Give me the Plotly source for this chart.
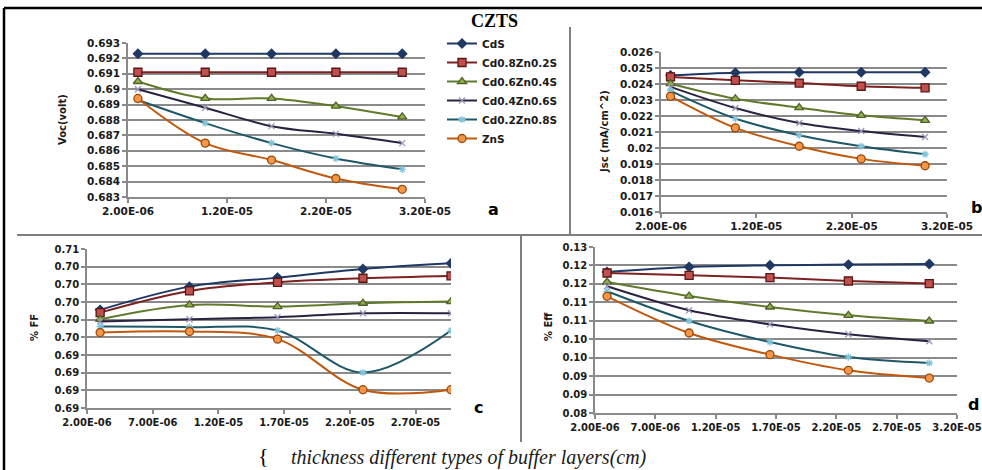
import plotly.graph_objects as go

# ---------------- data ----------------
series_names = ["CdS", "Cd0.8Zn0.2S", "Cd0.6Zn0.4S", "Cd0.4Zn0.6S", "Cd0.2Zn0.8S", "ZnS"]
thickness_cm = [3.0e-6, 9.8e-6, 1.65e-5, 2.3e-5, 2.97e-5]

voc = [
    [0.6923, 0.6923, 0.6923, 0.6923, 0.6923],
    [0.6911, 0.6911, 0.6911, 0.6911, 0.6911],
    [0.6905, 0.6894, 0.6894, 0.6889, 0.6882],
    [0.6900, 0.6888, 0.6876, 0.6871, 0.6865],
    [0.6893, 0.6878, 0.6865, 0.6855, 0.6848],
    [0.6894, 0.6865, 0.6854, 0.6842, 0.6835],
]
jsc = [
    [0.02454, 0.02471, 0.02473, 0.02473, 0.02473],
    [0.02444, 0.02423, 0.02406, 0.02386, 0.02376],
    [0.02402, 0.02308, 0.02252, 0.02204, 0.02173],
    [0.02382, 0.02250, 0.02156, 0.02106, 0.02069],
    [0.02357, 0.02184, 0.02080, 0.02011, 0.01961],
    [0.02323, 0.02126, 0.02011, 0.01932, 0.01889],
]
ff = [
    [0.69811, 0.70074, 0.70176, 0.70274, 0.70338],
    [0.69780, 0.70025, 0.70123, 0.70169, 0.70195],
    [0.69705, 0.69867, 0.69848, 0.69886, 0.69905],
    [0.69679, 0.69705, 0.69728, 0.69773, 0.69773],
    [0.69622, 0.69615, 0.69577, 0.69102, 0.69577],
    [0.69554, 0.69566, 0.69480, 0.68907, 0.68907],
]
eff = [
    [0.12322, 0.12458, 0.12504, 0.12523, 0.12539],
    [0.12295, 0.12233, 0.12170, 0.12078, 0.12008],
    [0.12051, 0.11671, 0.11373, 0.11148, 0.10994],
    [0.11934, 0.11284, 0.10904, 0.10633, 0.10443],
    [0.11799, 0.10994, 0.10424, 0.10017, 0.09855],
    [0.11663, 0.10668, 0.10082, 0.09657, 0.09448],
]

# tick values / labels
x_ticks_top = [2e-6, 1.2e-5, 2.2e-5, 3.2e-5]
x_labels_top = ["2.00E-06", "1.20E-05", "2.20E-05", "3.20E-05"]
x_ticks_c = [2e-6, 7e-6, 1.2e-5, 1.7e-5, 2.2e-5, 2.7e-5]
x_labels_c = ["2.00E-06", "7.00E-06", "1.20E-05", "1.70E-05", "2.20E-05", "2.70E-05"]
x_ticks_d = [2e-6, 7e-6, 1.2e-5, 1.7e-5, 2.2e-5, 2.7e-5, 3.2e-5]
x_labels_d = ["2.00E-06", "7.00E-06", "1.20E-05", "1.70E-05", "2.20E-05", "2.70E-05", "3.20E-05"]

y_ticks_a = [0.683, 0.684, 0.685, 0.686, 0.687, 0.688, 0.689, 0.690, 0.691, 0.692, 0.693]
y_labels_a = ["0.683", "0.684", "0.685", "0.686", "0.687", "0.688", "0.689", "0.69", "0.691", "0.692", "0.693"]
y_ticks_b = [0.016, 0.017, 0.018, 0.019, 0.020, 0.021, 0.022, 0.023, 0.024, 0.025, 0.026]
y_labels_b = ["0.016", "0.017", "0.018", "0.019", "0.02", "0.021", "0.022", "0.023", "0.024", "0.025", "0.026"]
y_ticks_c = [0.687, 0.689, 0.691, 0.693, 0.695, 0.697, 0.699, 0.701, 0.703, 0.705]
y_labels_c = ["0.69", "0.69", "0.69", "0.69", "0.70", "0.70", "0.70", "0.70", "0.70", "0.71"]
y_ticks_d = [0.085, 0.090, 0.095, 0.100, 0.105, 0.110, 0.115, 0.120, 0.125, 0.130]
y_labels_d = ["0.08", "0.09", "0.09", "0.10", "0.10", "0.11", "0.11", "0.12", "0.12", "0.13"]

# ---------------- styles ----------------
line_colors = ["#1F3864", "#7B2220", "#5E7A2A", "#2B2140", "#1E5868", "#C0590E"]
marker_symbols = ["diamond", "square", "triangle-up", "x-thin", "asterisk", "circle"]
marker_fills = ["#1F3864", "#C0504D", "#8FB04A", "#B8B4CC", "#7FC4DA", "#F79646"]
marker_lines = ["#1F3864", "#5A1614", "#4F6228", "#9A96B8", "#7FC4DA", "#984807"]
marker_sizes = [7, 8, 8, 6, 6, 8]

W, H = 982, 470
def px_x(v):
    return v / W
def px_y(v):
    return 1 - v / H

fig = go.Figure()

panels = [
    ("x", "y", voc),
    ("x2", "y2", jsc),
    ("x3", "y3", ff),
    ("x4", "y4", eff),
]
for p_i, (xa, ya, data) in enumerate(panels):
    for s_i, name in enumerate(series_names):
        fig.add_trace(go.Scatter(
            x=thickness_cm, y=data[s_i], name=name, xaxis=xa, yaxis=ya,
            mode="lines+markers", line=dict(color=line_colors[s_i], width=2, shape="spline", smoothing=1.0),
            marker=dict(symbol=marker_symbols[s_i], size=marker_sizes[s_i], color=marker_fills[s_i],
                        line=dict(color=marker_lines[s_i], width=1.3)),
            legendgroup=name, showlegend=(p_i == 0),
        ))

tick_font_top = dict(family="DejaVu Sans", size=10.5, color="#1a1a1a", weight="bold")
tick_font_bot = dict(family="DejaVu Sans", size=10, color="#1a1a1a", weight="bold")
grid_col = "#8a8a8a"

def xaxis_cfg(domain, rng, tv, tt, anchor, tf):
    return dict(domain=domain, range=rng, tickvals=tv, ticktext=tt, anchor=anchor, automargin=False,
                showgrid=False, zeroline=False, showline=True, linecolor=grid_col, linewidth=1.5,
                ticks="outside", ticklen=4, tickcolor=grid_col, tickwidth=1.5, tickfont=tf)

def yaxis_cfg(domain, rng, tv, tt, anchor, tf):
    return dict(domain=domain, range=rng, tickvals=tv, ticktext=tt, anchor=anchor, automargin=False,
                showgrid=True, gridcolor=grid_col, gridwidth=1.5, zeroline=False,
                showline=True, linecolor=grid_col, linewidth=1.5,
                ticks="outside", ticklen=4, tickcolor=grid_col, tickwidth=1.5, tickfont=tf)

fig.update_layout(
    width=W, height=H, margin=dict(l=0, r=0, t=0, b=0, pad=0, autoexpand=False),
    paper_bgcolor="white", plot_bgcolor="white",
    xaxis=xaxis_cfg([px_x(128), px_x(425)], [2e-6, 3.2e-5], x_ticks_top, x_labels_top, "y", tick_font_top),
    yaxis=yaxis_cfg([px_y(197), px_y(43)], [0.683, 0.693], y_ticks_a, y_labels_a, "x", tick_font_top),
    xaxis2=xaxis_cfg([px_x(661), px_x(947)], [2e-6, 3.2e-5], x_ticks_top, x_labels_top, "y2", tick_font_top),
    yaxis2=yaxis_cfg([px_y(212), px_y(52)], [0.016, 0.026], y_ticks_b, y_labels_b, "x2", tick_font_top),
    xaxis3=xaxis_cfg([px_x(87), px_x(451)], [2e-6, 2.97e-5], x_ticks_c, x_labels_c, "y3", tick_font_bot),
    yaxis3=yaxis_cfg([px_y(408), px_y(249)], [0.687, 0.705], y_ticks_c, y_labels_c, "x3", tick_font_bot),
    xaxis4=xaxis_cfg([px_x(595), px_x(957)], [2e-6, 3.2e-5], x_ticks_d, x_labels_d, "y4", tick_font_bot),
    yaxis4=yaxis_cfg([px_y(413), px_y(247)], [0.085, 0.13], y_ticks_d, y_labels_d, "x4", tick_font_bot),
    legend=dict(x=px_x(442), y=px_y(29), xanchor="left", yanchor="top",
                font=dict(family="DejaVu Sans", size=10.5, color="#1a1a1a", weight="bold"),
                bgcolor="rgba(0,0,0,0)", itemwidth=30, tracegroupgap=0),
    showlegend=True,
)

# frame and dividers
shapes = [
    dict(type="line", xref="paper", yref="paper", x0=px_x(4), x1=1, y0=px_y(8), y1=px_y(8),
         line=dict(color="black", width=2.5)),
    dict(type="line", xref="paper", yref="paper", x0=px_x(4), x1=px_x(4), y0=px_y(8), y1=0,
         line=dict(color="black", width=2.5)),
    dict(type="line", xref="paper", yref="paper", x0=px_x(17), x1=1, y0=px_y(235), y1=px_y(235),
         line=dict(color="#7f7f7f", width=2)),
    dict(type="line", xref="paper", yref="paper", x0=px_x(570), x1=px_x(570), y0=px_y(27), y1=px_y(235),
         line=dict(color="#7f7f7f", width=2)),
    dict(type="line", xref="paper", yref="paper", x0=px_x(521), x1=px_x(521), y0=px_y(235), y1=px_y(442),
         line=dict(color="#7f7f7f", width=2)),
]
fig.update_layout(shapes=shapes)

def note(text, xx, yy, font, angle=0):
    return dict(text=text, x=px_x(xx), y=px_y(yy), xref="paper", yref="paper", showarrow=False,
                xanchor="center", yanchor="middle", textangle=angle, font=font)

ann = []
ann.append(note("<b>CZTS</b>", 495, 21, dict(family="Liberation Serif", size=18, color="black")))
for lbl, xx, yy in [("a", 493, 209), ("b", 976, 207), ("c", 478, 407), ("d", 973, 404)]:
    ann.append(note("<b>" + lbl + "</b>", xx, yy, dict(family="DejaVu Sans", size=16, color="black")))
for lbl, xx, yy in [("Voc(volt)", 63, 120), ("Jsc (mA/cm^2)", 605, 132), ("% FF", 34, 328), ("% Eff", 548, 327)]:
    ann.append(note(lbl, xx, yy, dict(family="DejaVu Sans", size=10, color="#1a1a1a", weight="bold"), -90))
ann.append(note("{", 263, 455, dict(family="Liberation Serif", size=22, color="black")))
ann.append(note("<i>thickness different types of buffer layers(cm)</i>", 469, 457,
                dict(family="Liberation Serif", size=20, color="#1a1a1a")))
fig.update_layout(annotations=ann)

fig.write_html("out.html")
